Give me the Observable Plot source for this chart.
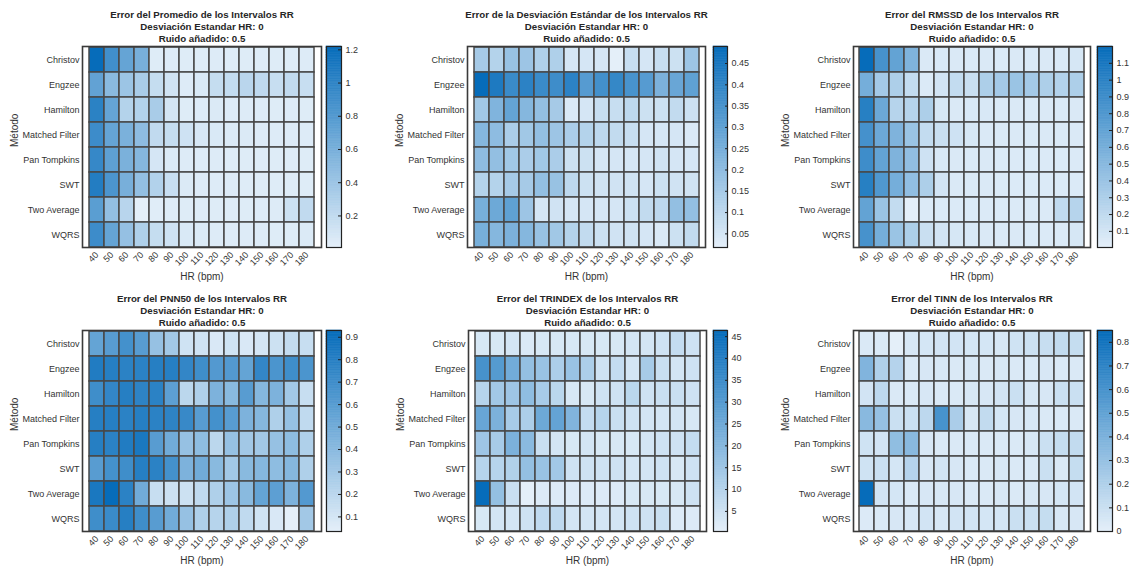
<!DOCTYPE html>
<html>
<head>
<meta charset="utf-8">
<script src="https://cdn.jsdelivr.net/npm/d3@7"></script>
<script src="https://cdn.jsdelivr.net/npm/@observablehq/plot@0.6"></script>
<style>
  body { margin: 0; background: #fff; }
  #root { position: relative; width: 1135px; height: 571px; overflow: hidden; background: #fff; }
  #root svg { position: absolute; left: 0; }
</style>
</head>
<body>
<div id="root"></div>
<script>
// ---------------- DATA ----------------
const methods = ["Christov", "Engzee", "Hamilton", "Matched Filter", "Pan Tompkins", "SWT", "Two Average", "WQRS"];
const hrValues = [40, 50, 60, 70, 80, 90, 100, 110, 120, 130, 140, 150, 160, 170, 180];

const errPromedio = [
  [1.22, 0.90, 0.70, 0.60, 0.04, 0.05, 0.04, 0.04, 0.05, 0.04, 0.04, 0.04, 0.04, 0.04, 0.05],
  [0.72, 0.50, 0.40, 0.33, 0.18, 0.12, 0.05, 0.07, 0.18, 0.19, 0.24, 0.21, 0.17, 0.20, 0.17],
  [1.02, 0.70, 0.27, 0.28, 0.33, 0.10, 0.04, 0.05, 0.06, 0.05, 0.05, 0.05, 0.04, 0.05, 0.04],
  [0.92, 0.70, 0.58, 0.48, 0.20, 0.18, 0.13, 0.08, 0.07, 0.06, 0.06, 0.05, 0.05, 0.05, 0.05],
  [0.96, 0.74, 0.58, 0.53, 0.09, 0.06, 0.05, 0.05, 0.05, 0.04, 0.04, 0.04, 0.04, 0.04, 0.04],
  [1.06, 0.84, 0.60, 0.45, 0.28, 0.17, 0.06, 0.05, 0.05, 0.05, 0.04, 0.04, 0.04, 0.04, 0.04],
  [0.76, 0.45, 0.25, 0.01, 0.03, 0.04, 0.04, 0.04, 0.04, 0.04, 0.04, 0.05, 0.05, 0.14, 0.20],
  [0.92, 0.70, 0.44, 0.30, 0.18, 0.13, 0.07, 0.06, 0.05, 0.05, 0.05, 0.05, 0.04, 0.04, 0.06]
];

const errDesviacion = [
  [0.15, 0.12, 0.18, 0.17, 0.13, 0.13, 0.05, 0.05, 0.05, 0.018, 0.08, 0.05, 0.08, 0.07, 0.17],
  [0.49, 0.44, 0.38, 0.41, 0.38, 0.37, 0.41, 0.32, 0.36, 0.39, 0.35, 0.32, 0.24, 0.28, 0.30],
  [0.16, 0.23, 0.29, 0.22, 0.19, 0.15, 0.04, 0.05, 0.08, 0.08, 0.10, 0.07, 0.07, 0.09, 0.07],
  [0.22, 0.20, 0.14, 0.16, 0.19, 0.17, 0.14, 0.12, 0.10, 0.09, 0.08, 0.05, 0.05, 0.05, 0.04],
  [0.20, 0.19, 0.16, 0.14, 0.16, 0.14, 0.07, 0.07, 0.05, 0.05, 0.05, 0.05, 0.06, 0.05, 0.05],
  [0.12, 0.12, 0.15, 0.15, 0.19, 0.18, 0.10, 0.07, 0.06, 0.06, 0.06, 0.05, 0.07, 0.06, 0.06],
  [0.25, 0.27, 0.30, 0.17, 0.05, 0.06, 0.05, 0.05, 0.05, 0.05, 0.07, 0.09, 0.10, 0.19, 0.19],
  [0.25, 0.22, 0.24, 0.22, 0.18, 0.16, 0.12, 0.09, 0.07, 0.06, 0.06, 0.05, 0.04, 0.07, 0.09]
];

const errRMSSD = [
  [1.20, 0.85, 0.70, 0.55, 0.06, 0.07, 0.06, 0.06, 0.06, 0.05, 0.06, 0.06, 0.06, 0.06, 0.08],
  [0.60, 0.35, 0.30, 0.18, 0.05, 0.10, 0.18, 0.15, 0.30, 0.35, 0.40, 0.35, 0.30, 0.27, 0.30],
  [1.02, 0.65, 0.25, 0.25, 0.30, 0.08, 0.06, 0.07, 0.07, 0.06, 0.06, 0.06, 0.06, 0.06, 0.06],
  [0.86, 0.65, 0.55, 0.40, 0.18, 0.15, 0.12, 0.08, 0.06, 0.06, 0.06, 0.06, 0.06, 0.06, 0.06],
  [0.90, 0.70, 0.55, 0.45, 0.12, 0.07, 0.06, 0.06, 0.06, 0.05, 0.05, 0.05, 0.05, 0.05, 0.05],
  [1.02, 0.80, 0.60, 0.45, 0.30, 0.10, 0.06, 0.06, 0.06, 0.05, 0.05, 0.05, 0.05, 0.05, 0.05],
  [0.70, 0.40, 0.18, 0.004, 0.05, 0.05, 0.05, 0.05, 0.05, 0.05, 0.05, 0.06, 0.05, 0.20, 0.25],
  [0.85, 0.60, 0.40, 0.30, 0.15, 0.10, 0.08, 0.07, 0.06, 0.06, 0.06, 0.05, 0.05, 0.05, 0.08]
];

const errPNN50 = [
  [0.55, 0.60, 0.68, 0.60, 0.35, 0.30, 0.12, 0.12, 0.08, 0.12, 0.08, 0.10, 0.13, 0.17, 0.15],
  [0.82, 0.80, 0.78, 0.78, 0.80, 0.80, 0.75, 0.70, 0.62, 0.62, 0.55, 0.75, 0.65, 0.70, 0.65],
  [0.70, 0.75, 0.80, 0.77, 0.78, 0.58, 0.20, 0.25, 0.45, 0.40, 0.60, 0.42, 0.45, 0.30, 0.15],
  [0.80, 0.80, 0.78, 0.80, 0.78, 0.77, 0.73, 0.60, 0.68, 0.60, 0.45, 0.42, 0.25, 0.35, 0.18],
  [0.80, 0.78, 0.82, 0.85, 0.60, 0.50, 0.35, 0.38, 0.20, 0.35, 0.30, 0.30, 0.35, 0.38, 0.25],
  [0.60, 0.68, 0.70, 0.80, 0.78, 0.68, 0.45, 0.50, 0.40, 0.30, 0.40, 0.42, 0.38, 0.42, 0.25],
  [0.85, 0.93, 0.78, 0.50, 0.15, 0.13, 0.13, 0.18, 0.25, 0.32, 0.40, 0.55, 0.58, 0.45, 0.62],
  [0.70, 0.72, 0.80, 0.70, 0.60, 0.50, 0.35, 0.25, 0.22, 0.25, 0.18, 0.12, 0.08, 0.035, 0.30]
];

const errTRINDEX = [
  [3, 3, 4, 2.5, 3, 3, 3, 3, 3, 3, 4, 4, 5, 7, 5],
  [33, 30, 24, 17, 16, 12, 16, 12, 5, 7, 4, 13, 6, 4, 5],
  [10, 14, 15, 18, 13, 9, 3, 3, 5, 5, 9, 5, 6, 6, 5],
  [26, 22, 13, 12, 25, 27, 21, 7, 10, 6, 5, 4, 4, 4, 3],
  [15, 13, 22, 19, 6, 4, 3, 4, 3, 3, 3, 4, 5, 5, 7],
  [10, 10, 11, 17, 16, 14, 5, 5, 5, 5, 4, 4, 5, 3, 5],
  [46.4, 17, 6, 0.4, 2, 2, 2, 2, 2, 2, 3, 3, 3, 3, 5],
  [3, 4, 4, 5, 8, 8, 4, 4, 4, 4, 5, 5, 6, 2, 2]
];

const errTINN = [
  [0.04, 0.04, 0.0, 0.05, 0.06, 0.07, 0.07, 0.06, 0.06, 0.05, 0.08, 0.09, 0.11, 0.13, 0.12],
  [0.38, 0.20, 0.18, 0.04, 0.05, 0.05, 0.04, 0.05, 0.04, 0.05, 0.04, 0.04, 0.05, 0.04, 0.04],
  [0.07, 0.15, 0.04, 0.04, 0.05, 0.04, 0.04, 0.05, 0.05, 0.07, 0.10, 0.05, 0.05, 0.10, 0.10],
  [0.35, 0.30, 0.10, 0.10, 0.15, 0.60, 0.22, 0.05, 0.13, 0.06, 0.05, 0.05, 0.04, 0.04, 0.04],
  [0.08, 0.07, 0.32, 0.35, 0.05, 0.04, 0.04, 0.04, 0.04, 0.04, 0.04, 0.05, 0.10, 0.12, 0.13],
  [0.08, 0.10, 0.06, 0.18, 0.05, 0.07, 0.05, 0.04, 0.04, 0.05, 0.04, 0.04, 0.10, 0.04, 0.12],
  [0.85, 0.07, 0.06, 0.04, 0.05, 0.05, 0.05, 0.04, 0.04, 0.05, 0.04, 0.05, 0.05, 0.06, 0.07],
  [0.03, 0.04, 0.05, 0.05, 0.07, 0.05, 0.07, 0.07, 0.06, 0.06, 0.10, 0.10, 0.12, 0.05, 0.05]
];

const ticksPromedio = [0.2, 0.4, 0.6, 0.8, 1, 1.2];
const ticksDesviacion = [0.05, 0.1, 0.15, 0.2, 0.25, 0.3, 0.35, 0.4, 0.45];
const ticksRMSSD = [0.1, 0.2, 0.3, 0.4, 0.5, 0.6, 0.7, 0.8, 0.9, 1, 1.1];
const ticksPNN50 = [0.1, 0.2, 0.3, 0.4, 0.5, 0.6, 0.7, 0.8, 0.9];
const ticksTRINDEX = [5, 10, 15, 20, 25, 30, 35, 40, 45];
const ticksTINN = [0, 0.1, 0.2, 0.3, 0.4, 0.5, 0.6, 0.7, 0.8];

const titleLines = ["Desviación Estandar HR: 0", "Ruido añadido: 0.5"];
const titlePromedio = "Error del Promedio de los Intervalos RR";
const titleDesviacion = "Error de la Desviación Estándar de los Intervalos RR";
const titleRMSSD = "Error del RMSSD de los Intervalos RR";
const titlePNN50 = "Error del PNN50 de los Intervalos RR";
const titleTRINDEX = "Error del TRINDEX de los Intervalos RR";
const titleTINN = "Error del TINN de los Intervalos RR";
const xLabel = "HR (bpm)";
const yLabel = "Método";

// ---------------- LAYOUT ----------------
const W = 1135, ROWH = 285;
const FONT = "'Liberation Sans', Arial, Helvetica, sans-serif";
const LIGHT = "#e4eff9", DARK = "#066cba";

const panels = [
  {values: errPromedio, title: titlePromedio, ticks: ticksPromedio, top: 0, hx: [82, 321], hy: [46, 247], cb: [326, 341]},
  {values: errDesviacion, title: titleDesviacion, ticks: ticksDesviacion, top: 0, hx: [467, 705], hy: [46, 247], cb: [713, 727]},
  {values: errRMSSD, title: titleRMSSD, ticks: ticksRMSSD, top: 0, hx: [853, 1090], hy: [46, 247], cb: [1097, 1112]},
  {values: errPNN50, title: titlePNN50, ticks: ticksPNN50, top: 285, hx: [82, 321], hy: [330, 531], cb: [326, 341]},
  {values: errTRINDEX, title: titleTRINDEX, ticks: ticksTRINDEX, top: 285, hx: [468, 706], hy: [330, 531], cb: [713, 727]},
  {values: errTINN, title: titleTINN, ticks: ticksTINN, top: 285, hx: [853, 1090], hy: [330, 531], cb: [1097, 1112]}
];

const root = document.getElementById("root");

for (const p of panels) {
  const rows = [];
  p.values.forEach((r, i) => r.forEach((v, j) => rows.push({method: methods[i], hr: hrValues[j], v})));
  const ext = d3.extent(rows, d => d.v);
  const color = {type: "linear", domain: ext, range: [LIGHT, DARK], interpolate: "rgb"};
  const margins = {
    marginLeft: p.hx[0], marginRight: W - p.hx[1],
    marginTop: p.hy[0] - p.top, marginBottom: p.top + ROWH - p.hy[1]
  };

  const heat = Plot.plot({
    width: W, height: ROWH, ...margins,
    style: {background: "transparent", fontFamily: FONT, fontSize: "9px", color: "#333", overflow: "visible"},
    x: {type: "band", domain: hrValues, padding: 0, tickSize: 0, tickRotate: -45, tickPadding: 6, label: null},
    y: {type: "band", domain: methods, padding: 0, tickSize: 0, tickPadding: 3, label: null},
    color,
    marks: [
      Plot.cell(rows, {x: "hr", y: "method", fill: "v", stroke: "#484848", strokeWidth: 1.5, inset: 0}),
      Plot.frame({stroke: "#3a3a3a", strokeWidth: 1.6}),
      Plot.text([[p.title, ...titleLines].join("\n")], {
        frameAnchor: "top", lineAnchor: "bottom", dy: -5, lineHeight: 1.2,
        fontSize: 9.7, fontWeight: "bold", fill: "#262626"
      }),
      Plot.text([xLabel], {frameAnchor: "bottom", lineAnchor: "middle", dy: 29, fontSize: 10, fill: "#333"}),
      Plot.text([yLabel], {frameAnchor: "left", dx: -68, rotate: -90, fontSize: 10, fill: "#333"})
    ]
  });
  heat.style.top = p.top + "px";
  root.appendChild(heat);

  const N = 120;
  const step = (ext[1] - ext[0]) / N;
  const stripes = d3.range(N).map(i => ({lo: ext[0] + i * step, hi: ext[0] + (i + 1) * step}));
  const cbar = Plot.plot({
    width: W, height: ROWH,
    marginLeft: p.cb[0], marginRight: W - p.cb[1], marginTop: margins.marginTop, marginBottom: margins.marginBottom,
    style: {background: "transparent", fontFamily: FONT, fontSize: "9px", color: "#333", overflow: "visible"},
    x: {domain: [0, 1], axis: null},
    y: {domain: ext, axis: "right", ticks: p.ticks, tickFormat: d => String(d), tickSize: 0, tickPadding: 4, label: null},
    color,
    marks: [
      Plot.rect(stripes, {x1: 0, x2: 1, y1: "lo", y2: "hi", fill: d => (d.lo + d.hi) / 2, stroke: d => (d.lo + d.hi) / 2, strokeWidth: 0.6}),
      Plot.tickY(p.ticks, {y: d => d, insetLeft: 12, stroke: "#222", strokeWidth: 1}),
      Plot.frame({stroke: "#222", strokeWidth: 1.2})
    ]
  });
  cbar.style.top = p.top + "px";
  root.appendChild(cbar);
}
</script>
</body>
</html>
